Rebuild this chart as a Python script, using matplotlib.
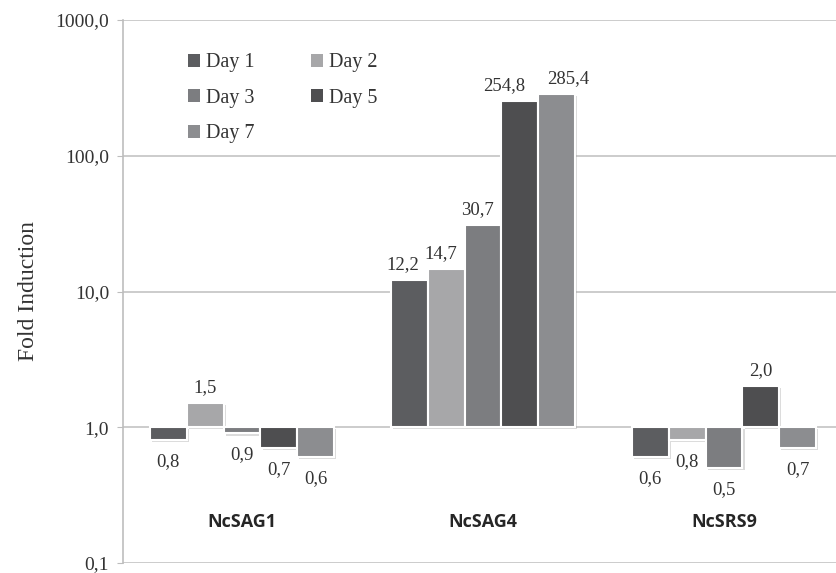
import matplotlib
matplotlib.use("Agg")
import matplotlib.pyplot as plt
import matplotlib.patheffects as pe
from matplotlib.patches import Patch
import numpy as np

genes = ["NcSAG1", "NcSAG4", "NcSRS9"]
days = ["Day 1", "Day 2", "Day 3", "Day 5", "Day 7"]
day1 = [0.8, 12.2, 0.6]
day2 = [1.5, 14.7, 0.8]
day3 = [0.9, 30.7, 0.5]
day5 = [0.7, 254.8, 2.0]
day7 = [0.6, 285.4, 0.7]
series = [day1, day2, day3, day5, day7]
colors = ["#5c5d60", "#a7a7a9", "#7c7d80", "#4e4e50", "#8c8d90"]
yticks = [0.1, 1, 10, 100, 1000]
ytick_labels = ["0,1", "1,0", "10,0", "100,0", "1000,0"]

# horizontal nudges (points) for crowded value labels: (gene index, day index) -> dx
label_nudge = {(1, 0): -5, (1, 1): -4, (1, 2): -4, (1, 3): -11.5, (1, 4): 8.5}

serif = "Liberation Serif"
text_col = "#333333"
fig = plt.figure(figsize=(8.37, 5.73), dpi=100)
ax = fig.add_axes([123 / 837, 1 - 563 / 573, 714 / 837, 543 / 573])

ax.set_yscale("log")
ax.set_ylim(0.1, 1000)
ax.set_xlim(-0.494, 2.469)

x = np.arange(len(genes))
w = 0.153
shadow = [pe.SimplePatchShadow(offset=(1.5, -1.5), shadow_rgbFace="#9a9a9a", alpha=0.35), pe.Normal()]

for i, (vals, col) in enumerate(zip(series, colors)):
    xs = x + (i - 2) * w
    heights = [v - 1 for v in vals]
    bars = ax.bar(xs, heights, width=w, bottom=1, color=col, edgecolor="white",
                  linewidth=1.5, zorder=3)
    for b in bars:
        b.set_path_effects(shadow)
    for g, (xi, v) in enumerate(zip(xs, vals)):
        txt = f"{v:.1f}".replace(".", ",")
        dx = label_nudge.get((g, i), 0)
        if v >= 1:
            ax.annotate(txt, (xi, v), xytext=(dx, 5), textcoords="offset points",
                        ha="center", va="bottom", fontsize=13.5, family=serif, color=text_col)
        else:
            ax.annotate(txt, (xi, v), xytext=(dx, -9), textcoords="offset points",
                        ha="center", va="top", fontsize=13.5, family=serif, color=text_col)

# gene names below the bars
for xi, g in zip(x, genes):
    ax.text(xi, 0.2, g, ha="center", va="center", fontsize=13,
            fontweight="bold", family="Open Sans", color="#262626")

ax.set_yticks(yticks)
ax.set_yticklabels(ytick_labels, family=serif, fontsize=14, color=text_col)
ax.yaxis.set_minor_locator(matplotlib.ticker.NullLocator())
ax.set_xticks([])
ax.tick_params(axis="y", length=4, color="#bdbdbd", pad=6)
ax.grid(axis="y", which="major", color="#c4c4c4", linewidth=1.2, zorder=0)
ax.set_axisbelow(True)
for s in ["top", "right", "bottom"]:
    ax.spines[s].set_visible(False)
ax.spines["left"].set_color("#bdbdbd")
ax.spines["left"].set_linewidth(1.2)

ax.set_ylabel("Fold Induction", family=serif, fontsize=17, color=text_col, labelpad=12)

handles = [Patch(facecolor=c, edgecolor="none") for c in colors]
order = [0, 2, 4, 1, 3]
leg = ax.legend([handles[k] for k in order], [days[k] for k in order], ncol=2,
                loc="upper left", bbox_to_anchor=(0.066, 0.972), frameon=False,
                prop={"family": serif, "size": 14.5}, handlelength=0.6, handleheight=0.6,
                handletextpad=0.3, columnspacing=2.8, labelspacing=0.82)
for t in leg.get_texts():
    t.set_color(text_col)

fig.savefig("out.png", dpi=100)
